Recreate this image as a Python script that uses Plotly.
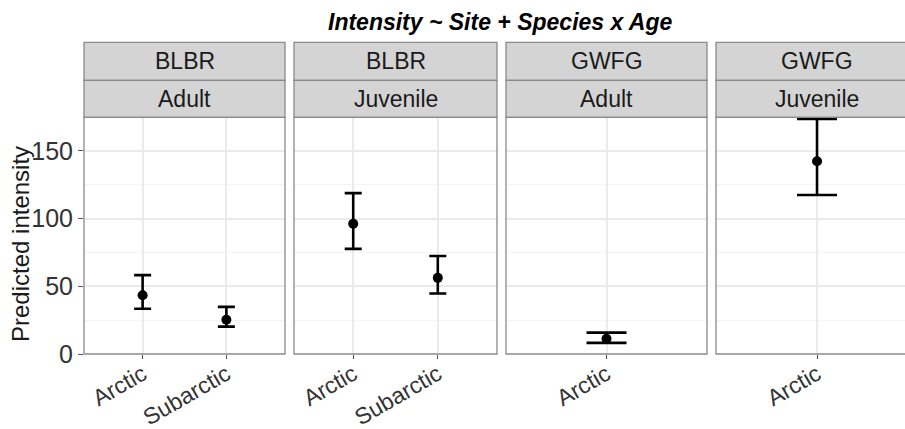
import plotly.graph_objects as go

# ---- data ----
species = ["BLBR", "BLBR", "GWFG", "GWFG"]
ages = ["Adult", "Juvenile", "Adult", "Juvenile"]
sites = [["Arctic", "Subarctic"], ["Arctic", "Subarctic"], ["Arctic"], ["Arctic"]]
estimate = [[43.3, 25.3], [96.1, 56.2], [11.2], [142.3]]
upper = [[58.2, 34.8], [118.7, 72.3], [15.8], [173.5]]
lower = [[33.4, 20.2], [77.6, 44.7], [8.2], [117.3]]
y_ticks = [0, 50, 100, 150]
title_text = "Intensity ~ Site + Species x Age"
y_title = "Predicted intensity"

W, H = 905, 429
FONT = "Liberation Sans, Arial, sans-serif"


def px(x):
    return x / W


def py(y):
    return 1 - y / H


panel_x = [(84, 285), (294, 497), (506, 707), (716, 918)]
x_ranges = [[0.3, 2.7], [0.3, 2.7], [0.4, 1.6], [0.397, 1.525]]
cap_half = [8.5, 8.5, 20, 20]
plot_top, plot_bot = 117.3, 354.0
strip1_top, strip_mid = 42.3, 80.3
y_range = [0, 174.7]

fig = go.Figure()
shapes = []
annotations = []
border = "#8A8A8A"

for i in range(4):
    xa = "x" if i == 0 else f"x{i+1}"
    ya = "y" if i == 0 else f"y{i+1}"
    pos = list(range(1, len(sites[i]) + 1))
    est = estimate[i]
    plus = [u - e for u, e in zip(upper[i], est)]
    minus = [e - l for e, l in zip(est, lower[i])]
    fig.add_trace(go.Scatter(
        x=pos, y=est, xaxis=xa, yaxis=ya, mode="markers",
        marker=dict(color="black", size=10),
        error_y=dict(type="data", symmetric=False, array=plus, arrayminus=minus,
                     color="black", thickness=2.6, width=cap_half[i]),
        showlegend=False, cliponaxis=False,
    ))
    x0, x1 = panel_x[i]
    dom_right = min(x1, W)
    key_x = "xaxis" if i == 0 else f"xaxis{i+1}"
    key_y = "yaxis" if i == 0 else f"yaxis{i+1}"
    fig.layout[key_x] = dict(
        domain=[px(x0), px(dom_right)], range=x_ranges[i], anchor=ya,
        tickmode="array", tickvals=pos, ticktext=sites[i], tickangle=-30,
        ticks="outside", ticklen=4, tickwidth=1.2, tickcolor="#555555",
        ticklabelstandoff=-7,
        tickfont=dict(family=FONT, size=23, color="#333333"),
        showgrid=True, gridcolor="#EBEBEB", gridwidth=1.5,
        zeroline=False, showline=False, fixedrange=True, automargin=False,
    )
    fig.layout[key_y] = dict(
        domain=[py(plot_bot), py(plot_top)], range=y_range, anchor=xa,
        tickmode="array", tickvals=y_ticks,
        ticks="outside" if i == 0 else "", ticklen=5, tickwidth=1.2, tickcolor="#555555",
        showticklabels=(i == 0),
        tickfont=dict(family=FONT, size=25, color="#333333"),
        showgrid=True, gridcolor="#EBEBEB", gridwidth=1.5,
        minor=dict(tickvals=[25, 75, 125], showgrid=True, gridcolor="#F4F4F4", gridwidth=1),
        zeroline=False, showline=False, fixedrange=True, automargin=False,
    )
    # panel border
    shapes.append(dict(type="rect", xref="paper", yref="paper",
                       x0=px(x0), x1=px(x1), y0=py(plot_bot), y1=py(plot_top),
                       line=dict(color=border, width=1.3), fillcolor="rgba(0,0,0,0)", layer="above"))
    # strips
    for (t, b, label) in [(strip1_top, strip_mid, species[i]), (strip_mid, plot_top, ages[i])]:
        shapes.append(dict(type="rect", xref="paper", yref="paper",
                           x0=px(x0), x1=px(x1), y0=py(b), y1=py(t),
                           line=dict(color=border, width=1.3), fillcolor="#D4D4D4", layer="below"))
        annotations.append(dict(xref="paper", yref="paper", x=px((x0 + x1) / 2), y=py((t + b) / 2),
                                text=label, showarrow=False, xanchor="center", yanchor="middle",
                                font=dict(family=FONT, size=23, color="#1A1A1A")))

annotations.append(dict(xref="paper", yref="paper", x=px(500), y=py(22),
                        text=f"<b><i>{title_text}</i></b>", showarrow=False,
                        xanchor="center", yanchor="middle",
                        font=dict(family=FONT, size=23, color="black")))
annotations.append(dict(xref="paper", yref="paper", x=px(21), y=py(244),
                        text=y_title, showarrow=False, textangle=-90,
                        xanchor="center", yanchor="middle",
                        font=dict(family=FONT, size=24, color="#1A1A1A")))

fig.update_layout(
    width=W, height=H, margin=dict(l=0, r=0, t=0, b=0, autoexpand=False),
    paper_bgcolor="white", plot_bgcolor="white",
    shapes=shapes, annotations=annotations, showlegend=False,
)

fig.write_html("out.html", config={"displayModeBar": False})
